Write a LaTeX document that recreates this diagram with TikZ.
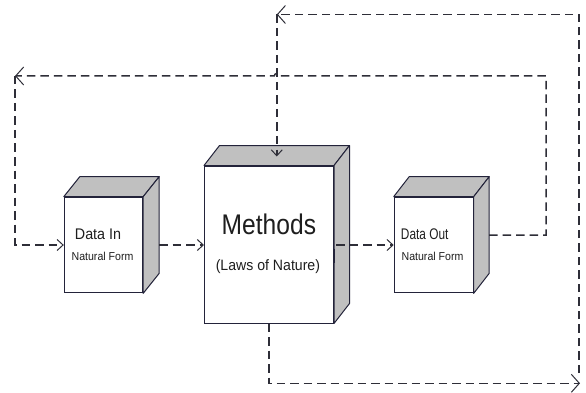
\documentclass[tikz,border=0pt]{standalone}
\usepackage{fontspec}
\setmainfont{Liberation Sans}
\usetikzlibrary{arrows.meta,calc}
\definecolor{boxline}{HTML}{23233A}
\definecolor{sidegray}{HTML}{C0C0C0}
\definecolor{flowcol}{HTML}{2E2E38}
\definecolor{txtcol}{HTML}{1E1E1E}
\begin{document}
\begin{tikzpicture}[x=1pt,y=-1pt,
  front/.style={draw=boxline,line width=1pt,fill=white,inner sep=0pt},
  face/.style={draw=boxline,line width=1pt,fill=sidegray,line join=round},
  flow/.style={draw=flowcol,line width=1.5pt,dash pattern=on 8.5pt off 5pt},
  tipS/.style={-{Straight Barb[length=6pt,width=11pt,line width=1pt]}},
  tipL/.style={-{Straight Barb[length=8pt,width=18pt,line width=1pt]}},
  lbl/.style={anchor=base,inner sep=0pt,text=txtcol}]
\useasboundingbox (0,0) rectangle (586,393);

% boxes (front faces)
\node[front,minimum width=78.4pt,minimum height=95.7pt] (din) at (103.5,245) {};
\node[front,minimum width=129pt,minimum height=157pt] (meth) at (269,244.5) {};
\node[front,minimum width=79pt,minimum height=95.7pt] (dout) at (433.7,245) {};

% 3D faces
\foreach \b/\dx in {din/16,meth/15.5,dout/15.5}{
  \draw[face] (\b.north west) -- ++(\dx,-20) -- ($(\b.north east)+(\dx,-20)$) -- (\b.north east) -- cycle;
  \draw[face] (\b.north east) -- ++(\dx,-20) -- ($(\b.south east)+(\dx,-20)$) -- (\b.south east) -- cycle;
}

% labels
\node[lbl] (tdin) at (98,239.3) {\fontsize{15.4}{18}\selectfont\scalebox{0.93}[1]{Data In}};
\node[lbl] (tdinf) at (102.5,260) {\fontsize{11.5}{14}\selectfont\scalebox{0.92}[1]{Natural Form}};
\node[lbl] (tmeth) at (268.9,234.3) {\fontsize{28.4}{32}\selectfont\scalebox{0.866}[1]{Methods}};
\node[lbl] (tlaws) at (267.9,270.5) {\fontsize{15}{18}\selectfont\scalebox{0.94}[1]{(Laws of Nature)}};
\node[lbl] (tdout) at (424.7,239.3) {\fontsize{15.4}{18}\selectfont\scalebox{0.77}[1]{Data Out}};
\node[lbl] (tdoutf) at (432.5,260) {\fontsize{11.5}{14}\selectfont\scalebox{0.92}[1]{Natural Form}};

% coordinates of the loops
\coordinate (lt) at (15,76);
\coordinate (rc) at (546,76);
\coordinate (tl) at ($(meth.north)+(7.75,-151)$);
\coordinate (mtop) at ($(meth.north)+(7.75,-9)$);
\coordinate (br) at (580,383.3);
\coordinate (rt) at (579,373);
\coordinate (hopR) at ($(tl |- lt)+(2.5,0)$);
\coordinate (hopL) at ($(tl |- lt)+(-2.5,0)$);

% straight flows
\draw[flow,tipS] ($(din.east)+(16,0)$) -- (meth.west |- din.east);
\draw[flow,tipS] ($(meth.east |- dout.west)+(2,0)$) -- (dout.west);
\draw[line width=1.6pt,draw=boxline] ($(meth.east)+(0.5,4)$) -- ++(0,14);

% Data Out feedback loop
\draw[flow,tipL] ($(dout.east)+(15.5,-10)$) -| (rc) -- (hopR)
   arc[start angle=0,end angle=180,radius=2.5pt] -- (lt);
\draw[flow,tipS] (lt) |- (din.west);

% Methods outer loop
\draw[flow,tipL] (meth.south) |- (br);
\draw[flow,tipL] (rt) |- (tl);
\draw[flow,tipS] (tl) -- (mtop);
\end{tikzpicture}
\end{document}
